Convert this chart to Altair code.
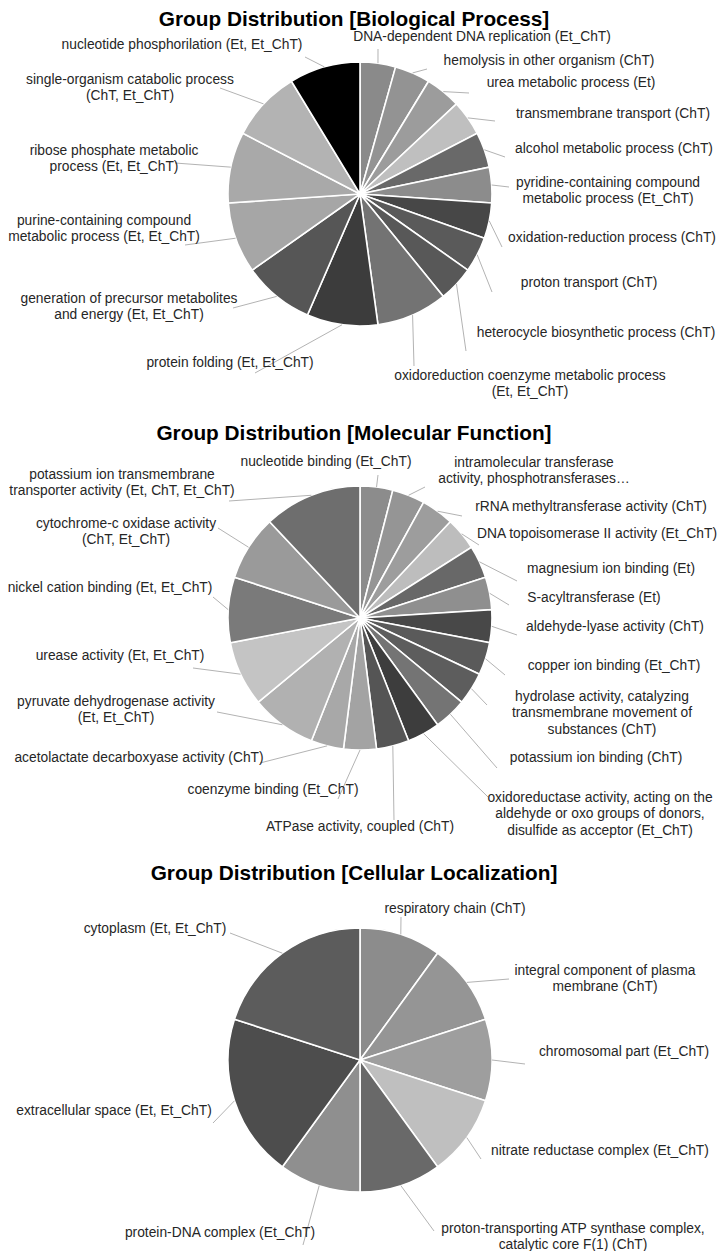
import math
import altair as alt
import pandas as pd

# ------------------------------------------------------------------ data
bp_title = "Group Distribution [Biological Process]"
bp_labels = [
    "DNA-dependent DNA replication (Et_ChT)",
    "hemolysis in other organism (ChT)",
    "urea metabolic process (Et)",
    "transmembrane transport (ChT)",
    "alcohol metabolic process (ChT)",
    "pyridine-containing compound\nmetabolic process (Et_ChT)",
    "oxidation-reduction process (ChT)",
    "proton transport (ChT)",
    "heterocycle biosynthetic process (ChT)",
    "oxidoreduction coenzyme metabolic process\n(Et, Et_ChT)",
    "protein folding (Et, Et_ChT)",
    "generation of precursor metabolites\nand energy (Et, Et_ChT)",
    "purine-containing compound\nmetabolic process (Et, Et_ChT)",
    "ribose phosphate metabolic\nprocess (Et, Et_ChT)",
    "single-organism catabolic process\n(ChT, Et_ChT)",
    "nucleotide phosphorilation (Et, Et_ChT)",
]
bp_values = [1, 1, 1, 1, 1, 1, 1, 1, 1, 2, 2, 2, 2, 2, 2, 2]

mf_title = "Group Distribution [Molecular Function]"
mf_labels = [
    "nucleotide binding (Et_ChT)",
    "intramolecular transferase\nactivity, phosphotransferases…",
    "rRNA methyltransferase activity (ChT)",
    "DNA topoisomerase II activity (Et_ChT)",
    "magnesium ion binding (Et)",
    "S-acyltransferase (Et)",
    "aldehyde-lyase activity (ChT)",
    "copper ion binding (Et_ChT)",
    "hydrolase activity, catalyzing\ntransmembrane movement of\nsubstances (ChT)",
    "potassium ion binding (ChT)",
    "oxidoreductase activity, acting on the\naldehyde or oxo groups of donors,\ndisulfide as acceptor (Et_ChT)",
    "ATPase activity, coupled (ChT)",
    "coenzyme binding (Et_ChT)",
    "acetolactate decarboxyase activity (ChT)",
    "pyruvate dehydrogenase activity\n(Et, Et_ChT)",
    "urease activity (Et, Et_ChT)",
    "nickel cation binding (Et, Et_ChT)",
    "cytochrome-c oxidase activity\n(ChT, Et_ChT)",
    "potassium ion transmembrane\ntransporter activity (Et, ChT, Et_ChT)",
]
mf_values = [1, 1, 1, 1, 1, 1, 1, 1, 1, 1, 1, 1, 1, 1, 2, 2, 2, 2, 3]

cl_title = "Group Distribution [Cellular Localization]"
cl_labels = [
    "respiratory chain (ChT)",
    "integral component of plasma\nmembrane (ChT)",
    "chromosomal part (Et_ChT)",
    "nitrate reductase complex (Et_ChT)",
    "proton-transporting ATP synthase complex,\ncatalytic core F(1) (ChT)",
    "protein-DNA complex (Et_ChT)",
    "extracellular space (Et, Et_ChT)",
    "cytoplasm (Et, Et_ChT)",
]
cl_values = [1, 1, 1, 1, 1, 1, 2, 2]

# ------------------------------------------------------------------ styles
bp_colors = ["#8a8a8a", "#939393", "#9c9c9c", "#bfbfbf", "#696969", "#8c8c8c",
             "#474747", "#5a5a5a", "#585858", "#737373", "#3c3c3c", "#565656",
             "#a6a6a6", "#a9a9a9", "#b3b3b3", "#000000"]
mf_colors = ["#8c8c8c", "#959595", "#9d9d9d", "#bdbdbd", "#686868", "#8f8f8f",
             "#484848", "#5a5a5a", "#5d5d5d", "#747474", "#3d3d3d", "#555555",
             "#a3a3a3", "#a8a8a8", "#b1b1b1", "#c4c4c4", "#7a7a7a", "#9a9a9a",
             "#6e6e6e"]
cl_colors = ["#8c8c8c", "#959595", "#9e9e9e", "#bfbfbf", "#696969", "#8f8f8f",
             "#4d4d4d", "#5c5c5c"]

# ------------------------------------------------------------------ layout (page pixels)
W, H = 709, 1243
M = 8
RADIUS = 132
TITLE_X = 354
LINE_H = 16.5

# label block centres and leader-line end points, in slice order
bp_layout = dict(cx=360, cy=194, title_y=26,
                 lab_x=[482, 549, 571, 613, 614, 608, 612, 589, 596, 530, 230, 129, 104, 114, 130, 182],
                 lab_y=[37, 61, 83, 114, 149, 191, 238, 283, 333, 384, 363, 307, 229, 159, 88, 45],
                 end_x=[378, 427, 469, 495, 505, 509, 502, 492, 466, 414, 255, 233, 185, 175, 220, 305],
                 end_y=[49, 69, 93, 121, 157, 187, 247, 292, 351, 366, 373, 308, 245, 163, 88, 57])
mf_layout = dict(cx=360, cy=618, title_y=440,
                 lab_x=[326, 534, 591, 597, 611, 594, 615, 614, 602, 596, 600, 360, 273, 139, 116, 120, 110, 126, 122],
                 lab_y=[462, 471, 507, 534, 569, 598, 627, 666, 713, 758, 814, 827, 790, 758, 710, 656, 588, 532, 483],
                 end_x=[378, 425, 462, 479, 517, 509, 517, 505, 487, 497, 488, 394, 338, 260, 217, 193, 213, 218, 229],
                 end_y=[475, 487, 516, 545, 581, 605, 635, 675, 705, 768, 797, 820, 799, 763, 712, 668, 597, 528, 501])
cl_layout = dict(cx=360, cy=1060, title_y=880,
                 lab_x=[455, 605, 624, 600, 573, 220, 114, 155],
                 lab_y=[909, 979, 1052, 1151, 1237, 1233, 1111, 929],
                 end_x=[401, 509, 525, 481, 434, 303, 213, 230],
                 end_y=[917, 979, 1064, 1159, 1231, 1245, 1123, 933])

XS = alt.Scale(domain=[M, M + W], nice=False, zero=False)
YS = alt.Scale(domain=[M, M + H], nice=False, zero=False, reverse=True)
FONT = "Liberation Sans"


def pie(title, labels, values, colors, lay):
    total = float(sum(values))
    n = len(values)
    arc_df = pd.DataFrame({"idx": list(range(n)), "label": labels,
                           "value": values, "color": colors})
    cum = 0.0
    rx, ry = [], []
    for v in values:
        mid = (cum + v / 2.0) / total * 2 * math.pi
        cum += v
        rx.append(lay["cx"] + RADIUS * math.sin(mid))
        ry.append(lay["cy"] - RADIUS * math.cos(mid))
    line_df = pd.DataFrame({"x": rx, "y": ry, "x2": lay["end_x"], "y2": lay["end_y"]})
    # Vega draws the first line of a multi-line text at y: shift so the block is centred
    first_y = [yc - (lab.count("\n")) * LINE_H / 2.0 for yc, lab in zip(lay["lab_y"], labels)]
    text_df = pd.DataFrame({"x": lay["lab_x"], "y": first_y, "label": labels})
    title_df = pd.DataFrame({"x": [TITLE_X], "y": [lay["title_y"]], "t": [title]})

    arc = alt.Chart(arc_df).mark_arc(radius=RADIUS, stroke="white", strokeWidth=1.6).encode(
        theta=alt.Theta("value:Q", stack=True),
        order=alt.Order("idx:Q", sort="ascending"),
        color=alt.Color("color:N", scale=None, legend=None),
        x=alt.value(lay["cx"] - M),
        y=alt.value(lay["cy"] - M),
    )
    lines = alt.Chart(line_df).mark_rule(color="#b3b3b3", strokeWidth=1).encode(
        x=alt.X("x:Q", scale=XS, axis=None),
        y=alt.Y("y:Q", scale=YS, axis=None),
        x2="x2:Q",
        y2="y2:Q",
    )
    text = alt.Chart(text_df).mark_text(
        align="center", baseline="middle", lineBreak="\n", lineHeight=LINE_H,
        fontSize=13.8, font=FONT, color="#262626",
    ).encode(
        x=alt.X("x:Q", scale=XS, axis=None),
        y=alt.Y("y:Q", scale=YS, axis=None),
        text="label:N",
    )
    ttl = alt.Chart(title_df).mark_text(
        align="center", baseline="alphabetic", fontSize=20.8, fontWeight="bold",
        font=FONT, color="#000000",
    ).encode(
        x=alt.X("x:Q", scale=XS, axis=None),
        y=alt.Y("y:Q", scale=YS, axis=None),
        text="t:N",
    )
    return [arc, lines, text, ttl]


layers = (pie(bp_title, bp_labels, bp_values, bp_colors, bp_layout)
          + pie(mf_title, mf_labels, mf_values, mf_colors, mf_layout)
          + pie(cl_title, cl_labels, cl_values, cl_colors, cl_layout))

chart = alt.layer(*layers).resolve_scale(theta="independent").properties(
    width=W, height=H, padding=0,
    autosize=alt.AutoSizeParams(type="none"),
    background="white",
).configure_view(stroke=None)

chart.save("out.html", embed_options={"renderer": "svg", "actions": False})
